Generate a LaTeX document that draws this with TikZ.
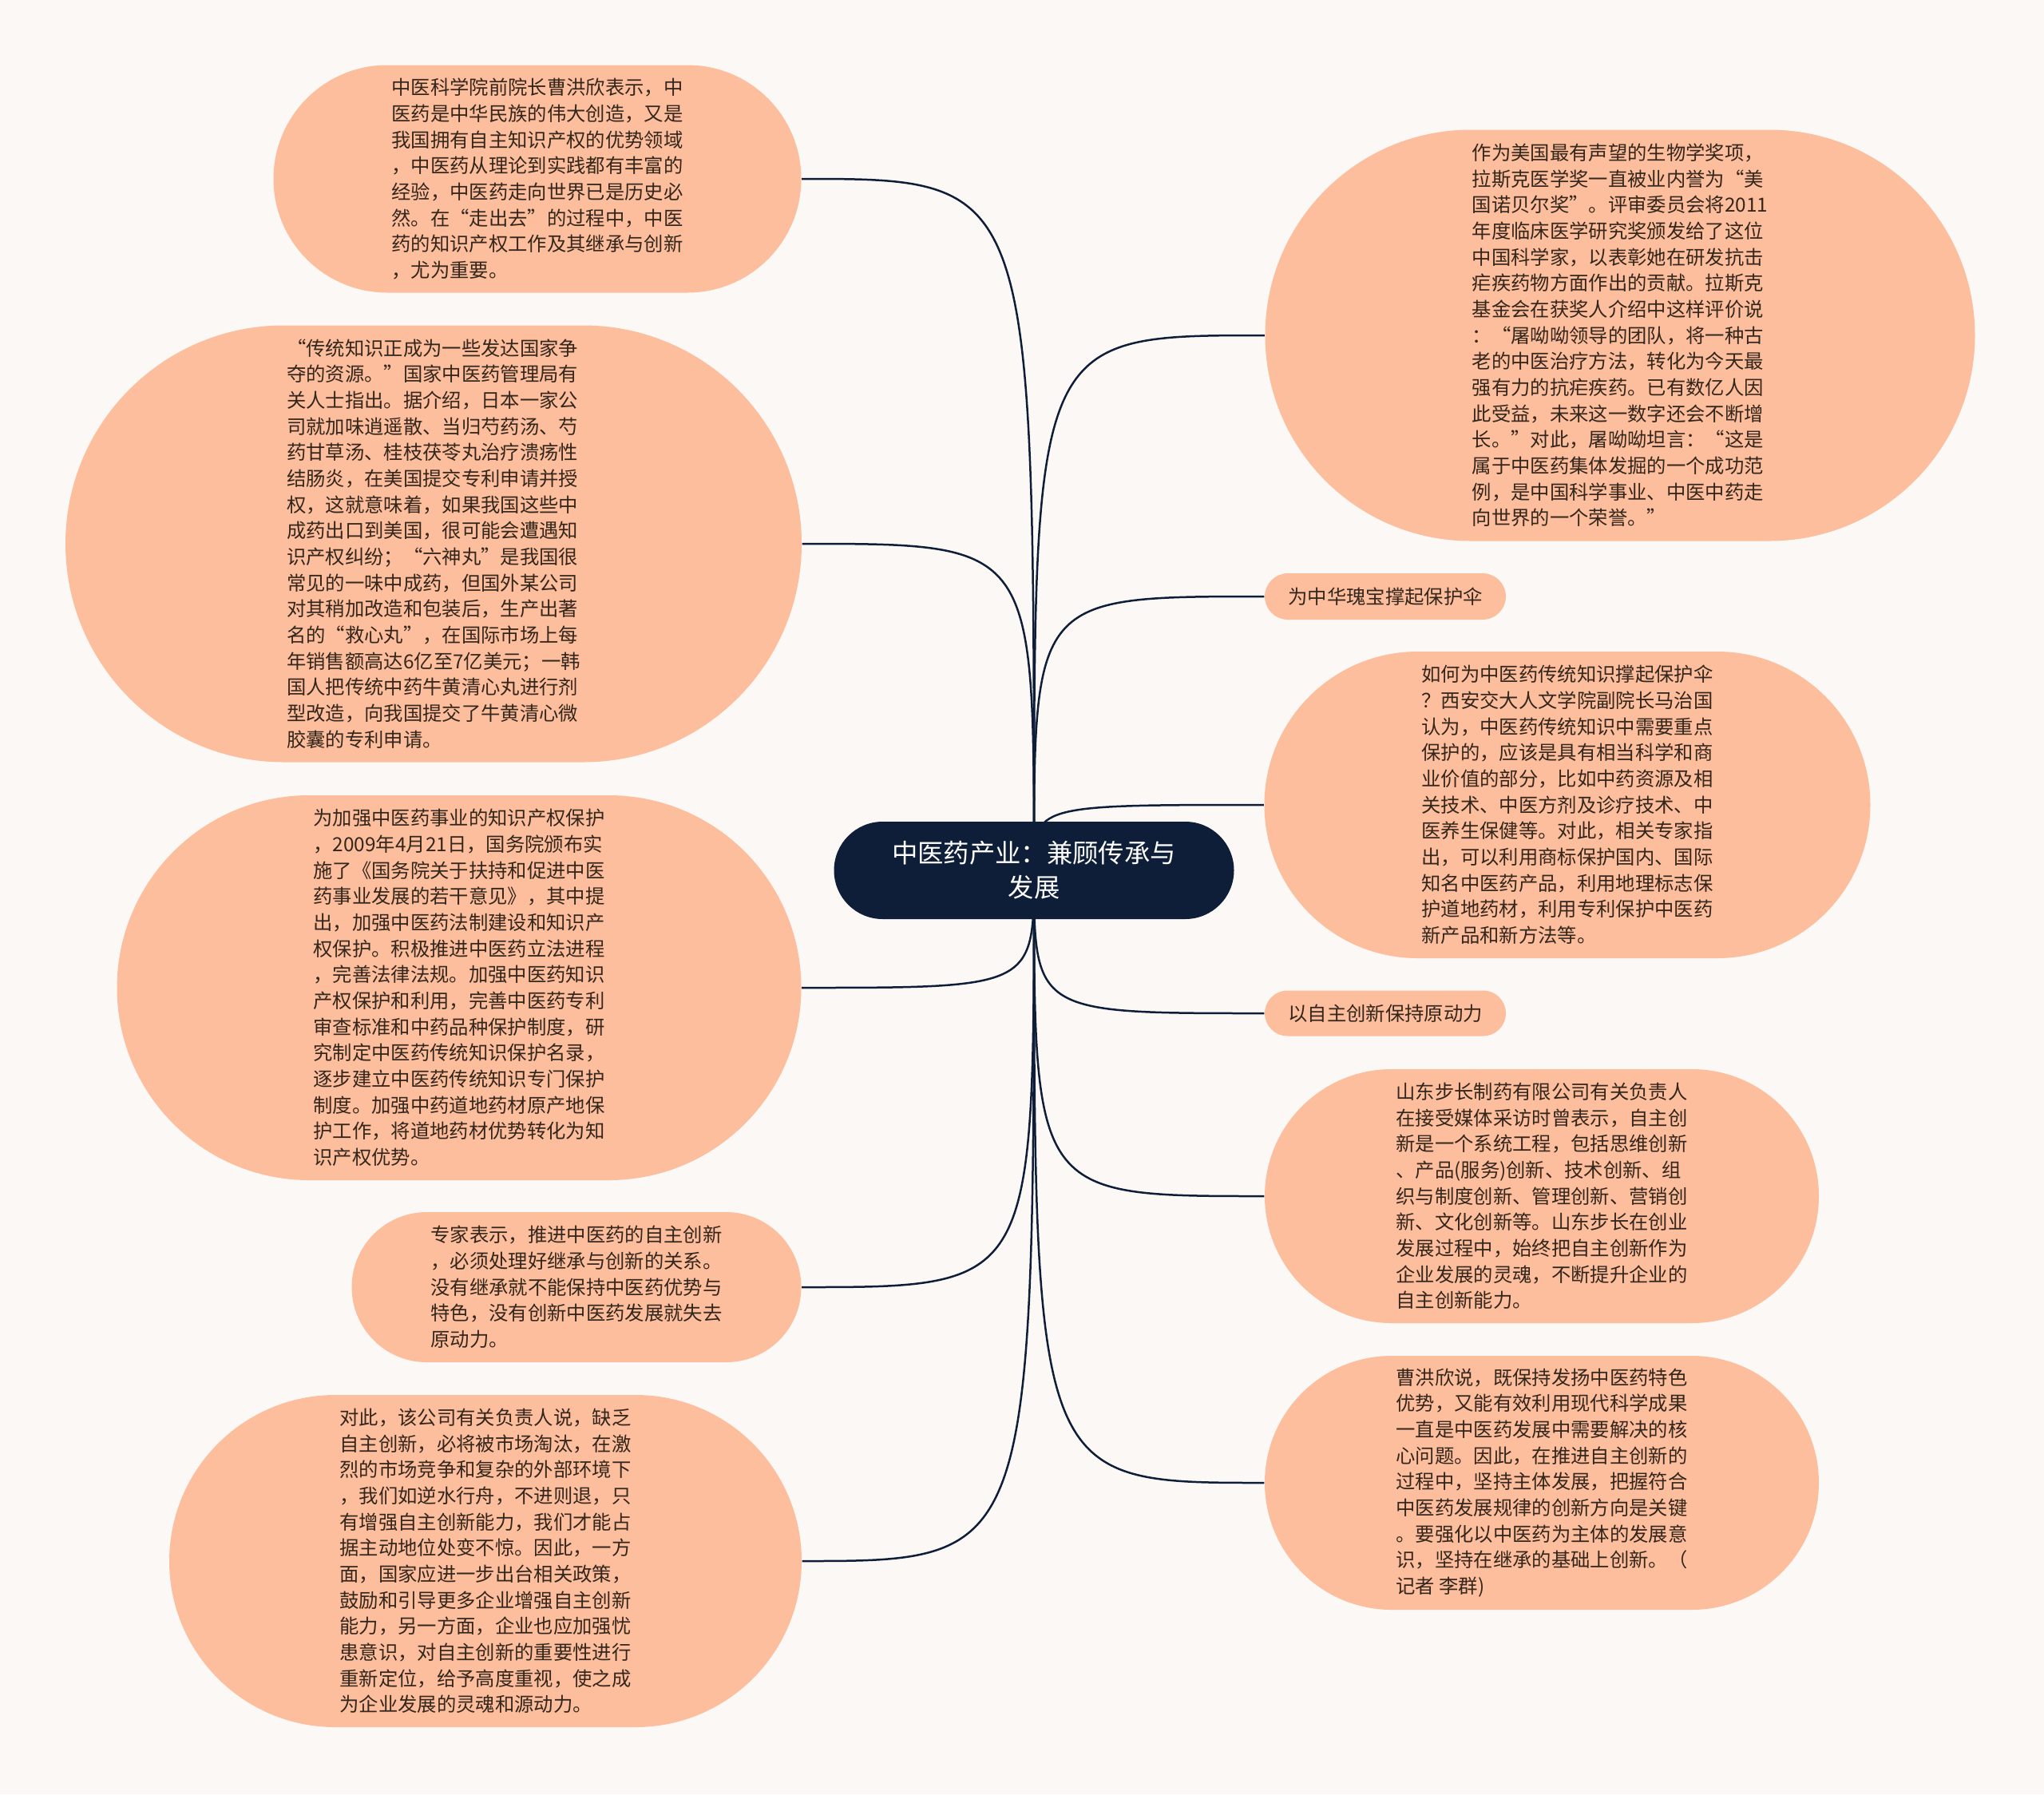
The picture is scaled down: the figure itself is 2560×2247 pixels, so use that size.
\documentclass[tikz,border=0pt]{standalone}
\usepackage{fontspec}
\newfontfamily\cjk{Noto Sans CJK SC}
\usetikzlibrary{backgrounds}
\definecolor{bgc}{RGB}{252,248,246}
\definecolor{peach}{RGB}{252,190,156}
\definecolor{txt}{RGB}{52,38,28}
\definecolor{navy}{RGB}{15,30,56}
\tikzset{
  bubble/.style={fill=peach, draw=none, text=txt, font=\cjk\fontsize{7.3}{9.8}\selectfont, align=left, inner sep=0pt},
  rootbox/.style={fill=navy, draw=none, text=white, font=\cjk\fontsize{9.7}{13}\selectfont, align=center, inner sep=0pt},
  conn/.style={draw=navy, line width=0.75pt}
}
\begin{document}
\begin{tikzpicture}[x=0.3pt,y=-0.3pt]
\useasboundingbox (0,0) rectangle (2560,2247);

\node[rootbox, minimum width=150.3pt, minimum height=36.6pt, rounded corners=18.3pt] (root) at (1295,1090) {中医药产业：兼顾传承与\\发展};

\node[bubble, minimum width=198.3pt, minimum height=85.5pt, rounded corners=42.75pt] (l1) at (673,224) {中医科学院前院长曹洪欣表示，中\\医药是中华民族的伟大创造，又是\\我国拥有自主知识产权的优势领域\\，中医药从理论到实践都有丰富的\\经验，中医药走向世界已是历史必\\然。在“走出去”的过程中，中医\\药的知识产权工作及其继承与创新\\，尤为重要。};

\node[bubble, minimum width=276.6pt, minimum height=164.1pt, rounded corners=82.05pt] (l2) at (543,681) {“传统知识正成为一些发达国家争\\夺的资源。”国家中医药管理局有\\关人士指出。据介绍，日本一家公\\司就加味逍遥散、当归芍药汤、芍\\药甘草汤、桂枝茯苓丸治疗溃疡性\\结肠炎，在美国提交专利申请并授\\权，这就意味着，如果我国这些中\\成药出口到美国，很可能会遭遇知\\识产权纠纷；“六神丸”是我国很\\常见的一味中成药，但国外某公司\\对其稍加改造和包装后，生产出著\\名的“救心丸”，在国际市场上每\\年销售额高达6亿至7亿美元；一韩\\国人把传统中药牛黄清心丸进行剂\\型改造，向我国提交了牛黄清心微\\胶囊的专利申请。};

\node[bubble, minimum width=257.1pt, minimum height=144.6pt, rounded corners=72.3pt] (l3) at (575,1237) {为加强中医药事业的知识产权保护\\，2009年4月21日，国务院颁布实\\施了《国务院关于扶持和促进中医\\药事业发展的若干意见》，其中提\\出，加强中医药法制建设和知识产\\权保护。积极推进中医药立法进程\\，完善法律法规。加强中医药知识\\产权保护和利用，完善中医药专利\\审查标准和中药品种保护制度，研\\究制定中医药传统知识保护名录，\\逐步建立中医药传统知识专门保护\\制度。加强中药道地药材原产地保\\护工作，将道地药材优势转化为知\\识产权优势。};

\node[bubble, minimum width=168.9pt, minimum height=56.4pt, rounded corners=28.2pt] (l4) at (722,1612) {专家表示，推进中医药的自主创新\\，必须处理好继承与创新的关系。\\没有继承就不能保持中医药优势与\\特色，没有创新中医药发展就失去\\原动力。};

\node[bubble, minimum width=237.6pt, minimum height=124.8pt, rounded corners=62.4pt] (l5) at (608,1955) {对此，该公司有关负责人说，缺乏\\自主创新，必将被市场淘汰，在激\\烈的市场竞争和复杂的外部环境下\\，我们如逆水行舟，不进则退，只\\有增强自主创新能力，我们才能占\\据主动地位处变不惊。因此，一方\\面，国家应进一步出台相关政策，\\鼓励和引导更多企业增强自主创新\\能力，另一方面，企业也应加强忧\\患意识，对自主创新的重要性进行\\重新定位，给予高度重视，使之成\\为企业发展的灵魂和源动力。};

\node[bubble, minimum width=266.7pt, minimum height=154.5pt, rounded corners=77.25pt] (r1) at (2029,420) {作为美国最有声望的生物学奖项，\\拉斯克医学奖一直被业内誉为“美\\国诺贝尔奖”。评审委员会将2011\\年度临床医学研究奖颁发给了这位\\中国科学家，以表彰她在研发抗击\\疟疾药物方面作出的贡献。拉斯克\\基金会在获奖人介绍中这样评价说\\：“屠呦呦领导的团队，将一种古\\老的中医治疗方法，转化为今天最\\强有力的抗疟疾药。已有数亿人因\\此受益，未来这一数字还会不断增\\长。”对此，屠呦呦坦言：“这是\\属于中医药集体发掘的一个成功范\\例，是中国科学事业、中医中药走\\向世界的一个荣誉。”};

\node[bubble, minimum width=90.6pt, minimum height=17.4pt, rounded corners=8.7pt] (r2) at (1735,747) {为中华瑰宝撑起保护伞};

\node[bubble, minimum width=227.7pt, minimum height=115.2pt, rounded corners=57.6pt] (r3) at (1963,1008) {如何为中医药传统知识撑起保护伞\\？西安交大人文学院副院长马治国\\认为，中医药传统知识中需要重点\\保护的，应该是具有相当科学和商\\业价值的部分，比如中药资源及相\\关技术、中医方剂及诊疗技术、中\\医养生保健等。对此，相关专家指\\出，可以利用商标保护国内、国际\\知名中医药产品，利用地理标志保\\护道地药材，利用专利保护中医药\\新产品和新方法等。};

\node[bubble, minimum width=90.6pt, minimum height=17.1pt, rounded corners=8.55pt] (r4) at (1735,1269) {以自主创新保持原动力};

\node[bubble, minimum width=208.2pt, minimum height=95.4pt, rounded corners=47.7pt] (r5) at (1931,1498) {山东步长制药有限公司有关负责人\\在接受媒体采访时曾表示，自主创\\新是一个系统工程，包括思维创新\\、产品(服务)创新、技术创新、组\\织与制度创新、管理创新、营销创\\新、文化创新等。山东步长在创业\\发展过程中，始终把自主创新作为\\企业发展的灵魂，不断提升企业的\\自主创新能力。};

\node[bubble, minimum width=208.2pt, minimum height=95.4pt, rounded corners=47.7pt] (r6) at (1931,1857) {曹洪欣说，既保持发扬中医药特色\\优势，又能有效利用现代科学成果\\一直是中医药发展中需要解决的核\\心问题。因此，在推进自主创新的\\过程中，坚持主体发展，把握符合\\中医药发展规律的创新方向是关键\\。要强化以中医药为主体的发展意\\识，坚持在继承的基础上创新。（\\记者 李群)};

\begin{scope}[on background layer]
\fill[bgc] (0,0) rectangle (2560,2247);
\foreach \n in {l1,l2,l3,l4,l5} {
  \draw[conn] (root.center) .. controls (root.center |- \n.east) .. (\n.east);
}
\foreach \n in {r1,r2,r3,r4,r5,r6} {
  \draw[conn] (root.center) .. controls (root.center |- \n.west) .. (\n.west);
}
\end{scope}
\end{tikzpicture}
\end{document}
